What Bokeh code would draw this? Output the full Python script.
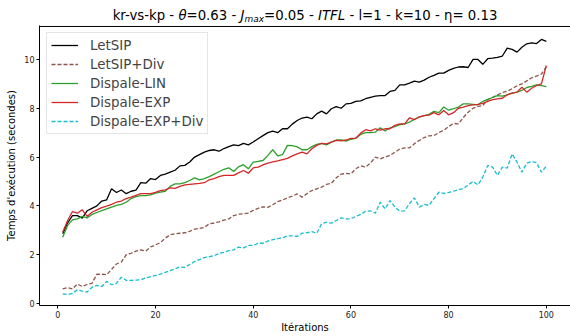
from bokeh.plotting import figure
from bokeh.models import Div, Legend, LegendItem, Span, FixedTicker, Range1d
from bokeh.layouts import column
from bokeh.embed import file_html
from bokeh.resources import INLINE

iterations = list(range(1, 101))

letsip = [2.86, 3.3, 3.6, 3.6, 3.5, 3.8, 3.9, 4.0, 4.2, 4.25,
          4.7, 4.55, 4.65, 4.5, 4.6, 4.65, 4.95, 4.93, 5.12, 5.08,
          5.25, 5.3, 5.38, 5.46, 5.64, 5.66, 5.8, 6.0, 6.1, 6.2,
          6.27, 6.3, 6.24, 6.35, 6.43, 6.5, 6.47, 6.56, 6.5, 6.62,
          6.75, 6.88, 7.0, 7.06, 7.0, 7.16, 7.16, 7.35, 7.5, 7.6,
          7.64, 7.57, 7.77, 7.88, 7.77, 7.98, 8.07, 8.0, 8.18, 8.2,
          8.28, 8.3, 8.39, 8.45, 8.5, 8.52, 8.52, 8.69, 8.73, 8.96,
          8.96, 9.03, 9.11, 9.07, 9.15, 9.27, 9.35, 9.44, 9.44, 9.55,
          9.63, 9.69, 9.7, 9.67, 10.0, 10.0, 9.8, 10.03, 10.05, 10.08,
          10.14, 10.46, 10.41, 10.3, 10.5, 10.64, 10.68, 10.65, 10.82, 10.74]

letsip_div = [0.6, 0.65, 0.6, 0.8, 0.7, 0.78, 0.83, 1.2, 1.2, 1.18,
              1.4, 1.62, 1.7, 2.0, 2.06, 2.15, 2.2, 2.15, 2.32, 2.4,
              2.5, 2.68, 2.82, 2.86, 2.88, 2.9, 2.96, 3.05, 3.08, 3.12,
              3.27, 3.3, 3.35, 3.42, 3.47, 3.6, 3.66, 3.68, 3.7, 3.82,
              3.9, 3.96, 3.94, 4.05, 4.18, 4.24, 4.33, 4.4, 4.49, 4.36,
              4.5, 4.63, 4.7, 4.77, 4.88, 4.93, 5.15, 5.3, 5.33, 5.31,
              5.52, 5.64, 5.59, 5.75, 6.0, 5.93, 6.0, 6.07, 6.2, 6.33,
              6.38, 6.38, 6.55, 6.68, 6.8, 6.87, 6.88, 7.0, 7.1, 7.25,
              7.38, 7.36, 7.62, 7.84, 8.0, 8.08, 8.11, 8.35, 8.45, 8.55,
              8.64, 8.7, 8.8, 8.92, 9.0, 9.12, 9.25, 9.32, 9.4, 9.7]

dispale_lin = [2.72, 3.2, 3.43, 3.47, 3.57, 3.51, 3.65, 3.73, 3.81, 3.88,
               3.95, 4.02, 4.06, 4.15, 4.3, 4.38, 4.42, 4.42, 4.45, 4.52,
               4.56, 4.6, 4.8, 4.9, 4.9, 4.95, 5.04, 5.15, 5.07, 5.12,
               5.2, 5.3, 5.4, 5.5, 5.56, 5.41, 5.6, 5.69, 5.52, 5.79,
               5.82, 5.86, 6.07, 6.3, 6.05, 6.1, 6.48, 6.47, 6.42, 6.3,
               6.3, 6.43, 6.52, 6.56, 6.5, 6.61, 6.7, 6.7, 6.65, 6.73,
               6.77, 6.93, 7.0, 7.0, 7.02, 7.2, 7.07, 7.2, 7.25, 7.33,
               7.36, 7.43, 7.55, 7.64, 7.7, 7.75, 7.87, 7.82, 8.05, 7.92,
               7.98, 8.05, 8.18, 8.18, 8.16, 8.14, 8.28, 8.36, 8.44, 8.52,
               8.5, 8.55, 8.62, 8.66, 8.73, 8.85, 8.9, 8.96, 8.93, 8.89]

dispale_exp = [2.92, 3.4, 3.77, 3.7, 3.84, 3.57, 3.74, 3.84, 3.93, 3.99,
               4.06, 4.15, 4.2, 4.3, 4.36, 4.43, 4.5, 4.5, 4.5, 4.55,
               4.63, 4.66, 4.74, 4.72, 4.8, 4.86, 4.88, 4.9, 4.92, 4.95,
               5.07, 5.12, 5.2, 5.25, 5.25, 5.25, 5.35, 5.45, 5.34, 5.56,
               5.59, 5.68, 5.75, 5.8, 5.84, 5.9, 5.95, 6.05, 6.13, 6.2,
               6.13, 6.34, 6.48, 6.56, 6.54, 6.61, 6.68, 6.66, 6.7, 6.77,
               6.77, 6.98, 7.12, 7.07, 7.16, 7.1, 7.16, 7.16, 7.3, 7.36,
               7.36, 7.61, 7.53, 7.65, 7.7, 7.72, 7.82, 7.73, 7.91, 7.73,
               7.82, 8.0, 8.05, 8.11, 8.14, 8.16, 8.2, 8.28, 8.35, 8.38,
               8.41, 8.55, 8.62, 8.66, 8.86, 8.66, 8.82, 8.93, 9.0, 9.75]

dispale_exp_div = [0.4, 0.37, 0.42, 0.56, 0.51, 0.47, 0.67, 0.74, 0.7, 0.91,
                   0.77, 0.83, 1.08, 0.95, 0.95, 0.96, 0.97, 1.05, 1.1, 1.15,
                   1.21, 1.28, 1.35, 1.42, 1.5, 1.48, 1.6, 1.72, 1.8, 1.88,
                   1.92, 1.96, 2.05, 2.1, 2.17, 2.2, 2.31, 2.28, 2.38, 2.38,
                   2.47, 2.47, 2.56, 2.62, 2.66, 2.69, 2.77, 2.77, 2.75, 2.88,
                   2.9, 2.95, 2.88, 3.27, 3.33, 3.29, 3.4, 3.51, 3.47, 3.47,
                   3.57, 3.65, 3.78, 3.8, 3.7, 4.15, 3.88, 4.22, 3.95, 3.78,
                   3.8, 4.1, 4.33, 3.95, 4.06, 4.02, 4.3, 4.56, 4.51, 4.55,
                   4.6, 4.67, 4.7, 4.86, 5.0, 4.86, 5.18, 5.66, 5.59, 5.25,
                   5.59, 5.55, 6.13, 5.79, 5.38, 5.75, 5.82, 5.77, 5.38, 5.63]

series_names = ["LetSIP", "LetSIP+Div", "Dispale-LIN", "Dispale-EXP", "Dispale-EXP+Div"]
series_values = [letsip, letsip_div, dispale_lin, dispale_exp, dispale_exp_div]
series_colors = ["#000000", "#8c564b", "#2ca02c", "#d62728", "#17becf"]
series_dash = ["solid", "4 2", "solid", "solid", "4 2"]

x_ticks = [0, 20, 40, 60, 80, 100]
y_ticks = [0, 2, 4, 6, 8, 10]

FONT = "DejaVu Sans"
Y_SPINE = 11.35

p = figure(width=570, height=312,
           x_range=Range1d(-3.75, 104.95), y_range=Range1d(-0.08, 11.39),
           output_backend="svg", toolbar_location=None,
           min_border_left=39, min_border_right=0, min_border_top=1, min_border_bottom=31)
p.outline_line_color = None
p.xgrid.visible = False
p.ygrid.visible = False
p.background_fill_color = "white"

items = []
for name, vals, col, dash in zip(series_names, series_values, series_colors, series_dash):
    r = p.line(iterations, vals, line_color=col, line_width=1.3, line_dash=dash)
    items.append(LegendItem(label=name, renderers=[r]))

p.add_layout(Span(location=Y_SPINE, dimension="width", line_color="black", line_width=1))

for ax, ticks, lab, lstand in ((p.xaxis[0], x_ticks, "Itérations", 1),
                               (p.yaxis[0], y_ticks, "Temps d'exécution (secondes)", 4)):
    ax.ticker = FixedTicker(ticks=ticks)
    ax.axis_label = lab
    ax.axis_label_text_font = FONT
    ax.axis_label_text_font_size = "10px"
    ax.axis_label_text_font_style = "normal"
    ax.axis_label_text_color = "black"
    ax.axis_label_standoff = lstand
    ax.major_label_text_font = FONT
    ax.major_label_text_font_size = "8px"
    ax.major_label_text_color = "#222222"
    ax.major_label_standoff = 2
    ax.major_tick_in = 0
    ax.major_tick_out = 3
    ax.minor_tick_out = 0
    ax.minor_tick_in = 0
    ax.axis_line_color = "black"
    ax.major_tick_line_color = "black"

legend = Legend(items=items, location="top_left", margin=7, padding=4,
                spacing=3, label_height=16, glyph_height=16, glyph_width=27,
                label_standoff=12, label_text_font=FONT, label_text_font_size="13.4px",
                border_line_color="#cccccc", border_line_width=1,
                background_fill_alpha=0.8)
p.add_layout(legend, "center")

title_html = (
    "<div style=\"font-family:'DejaVu Sans';font-size:13.3px;line-height:16px;padding-top:8px;"
    "text-align:center;width:570px;box-sizing:border-box;padding-left:40px;white-space:nowrap;color:black;\">"
    "kr-vs-kp - <i>θ</i>=0.63 - <i>J<span style=\"font-size:9px;vertical-align:-2px;line-height:0;\">max</span></i>=0.05"
    " - <i>ITFL</i> - l=1 - k=10 - η= 0.13</div>"
)
title = Div(text=title_html, width=570, height=24, margin=0)

layout = column(title, p, spacing=0)
open("out.html", "w").write(file_html(layout, INLINE))
